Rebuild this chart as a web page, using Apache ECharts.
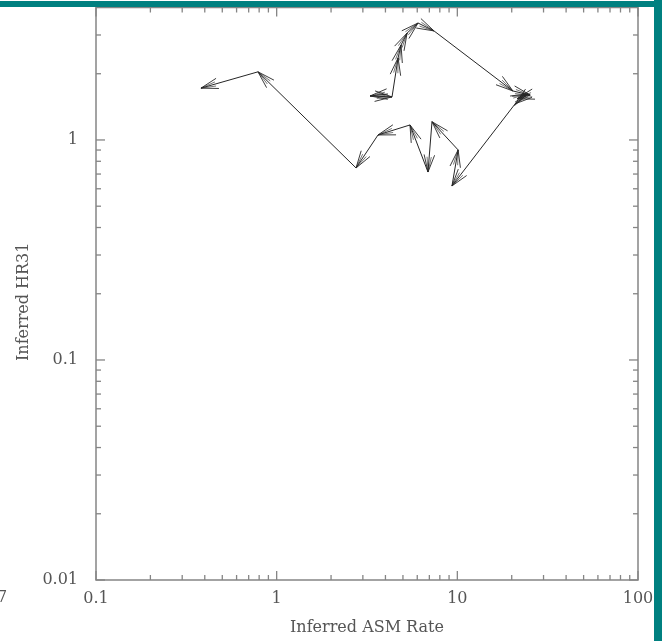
<!DOCTYPE html>
<html>
<head>
<meta charset="utf-8">
<script src="https://cdn.jsdelivr.net/npm/echarts/dist/echarts.min.js"></script>
<style>
html,body{margin:0;padding:0;background:#fff;}
#chart{width:662px;height:641px;}
</style>
</head>
<body>
<div id="chart"></div>
<script>
// Trajectory points (time order): inferred ASM rate and inferred HR31
const asmRate = [4.13, 3.29, 4.35, 4.70, 4.88, 5.27, 6.06, 7.43, 20.3, 25.3, 21.4, 24.6, 20.9, 9.34, 10.1, 7.24, 6.88, 5.47, 3.64, 2.75, 0.788, 0.381];
const hr31    = [1.618, 1.585, 1.569, 2.36, 2.70, 3.06, 3.40, 3.13, 1.67, 1.60, 1.54, 1.62, 1.46, 0.618, 0.901, 1.21, 0.715, 1.17, 1.054, 0.746, 2.04, 1.72];

// Axis ticks and labels
const xMajorTicks = [0.1, 1, 10, 100];
const xTickLabels = ['0.1', '1', '10', '100'];
const xMinorTicks = [0.2, 0.3, 0.4, 0.5, 0.6, 0.7, 0.8, 0.9, 2, 3, 4, 5, 6, 7, 8, 9, 20, 30, 40, 50, 60, 70, 80, 90];
const yMajorTicks = [0.01, 0.1, 1];
const yTickLabels = ['0.01', '0.1', '1'];
const yMinorTicks = [0.02, 0.03, 0.04, 0.05, 0.06, 0.07, 0.08, 0.09, 0.2, 0.3, 0.4, 0.5, 0.6, 0.7, 0.8, 0.9, 2, 3];

const X_MIN = 0.1, X_MAX = 100, Y_MIN = 0.01, Y_MAX = 4;

function labelFor(v, ticks, labels) {
  for (let i = 0; i < ticks.length; i++) {
    if (Math.abs(Math.log10(v) - Math.log10(ticks[i])) < 1e-6) return labels[i];
  }
  return '';
}

const segData = [];
for (let i = 0; i + 1 < asmRate.length; i++) {
  segData.push([asmRate[i], hr31[i], asmRate[i + 1], hr31[i + 1]]);
}

const tickData = [];
xMajorTicks.forEach(v => tickData.push([v, 1, 1, 0]));
xMinorTicks.forEach(v => tickData.push([v, 1, 0, 0]));
yMajorTicks.forEach(v => tickData.push([1, v, 1, 1]));
yMinorTicks.forEach(v => tickData.push([1, v, 0, 1]));

const FRAME = '#858585';
const FONT = 'DejaVu Serif';
const INK = '#262626';

const chart = echarts.init(document.getElementById('chart'), null, {renderer: 'canvas'});
chart.setOption({
  backgroundColor: '#ffffff',
  animation: false,
  grid: {
    left: 96, right: 24, top: 7.5, bottom: 61,
    show: true, borderColor: FRAME, borderWidth: 1.5, backgroundColor: 'transparent'
  },
  xAxis: {
    type: 'log', logBase: 10, min: X_MIN, max: X_MAX,
    axisLine: {show: false}, axisTick: {show: false}, splitLine: {show: false},
    minorTick: {show: false}, minorSplitLine: {show: false},
    axisLabel: {
      margin: 11, color: '#555', fontFamily: FONT, fontSize: 16,
      showMinLabel: true, showMaxLabel: true,
      formatter: v => labelFor(v, xMajorTicks, xTickLabels)
    },
    name: 'Inferred ASM Rate', nameLocation: 'middle', nameGap: 40,
    nameTextStyle: {color: '#555', fontFamily: FONT, fontSize: 16}
  },
  yAxis: {
    type: 'log', logBase: 10, min: Y_MIN, max: Y_MAX,
    axisLine: {show: false}, axisTick: {show: false}, splitLine: {show: false},
    minorTick: {show: false}, minorSplitLine: {show: false},
    axisLabel: {
      margin: 18, color: '#555', fontFamily: FONT, fontSize: 16,
      showMinLabel: true, showMaxLabel: true,
      formatter: v => labelFor(v, yMajorTicks, yTickLabels)
    },
    name: 'Inferred HR31', nameLocation: 'middle', nameGap: 56, nameRotate: 90,
    nameTextStyle: {color: '#555', fontFamily: FONT, fontSize: 16, padding: [0, 16, 0, 0]}
  },
  series: [
    {
      type: 'custom', name: 'ticks', silent: true, clip: false,
      encode: {x: 0, y: 1},
      data: tickData,
      renderItem: function (params, api) {
        const cs = params.coordSys;
        const major = api.value(2), orient = api.value(3);
        const len = major ? 9 : 5;
        const st = {stroke: FRAME, lineWidth: 1.3};
        if (orient === 0) {
          const px = api.coord([api.value(0), 1])[0];
          return {type: 'group', children: [
            {type: 'line', shape: {x1: px, y1: cs.y + cs.height, x2: px, y2: cs.y + cs.height - len}, style: st},
            {type: 'line', shape: {x1: px, y1: cs.y, x2: px, y2: cs.y + len}, style: st}
          ]};
        }
        const py = api.coord([1, api.value(1)])[1];
        return {type: 'group', children: [
          {type: 'line', shape: {x1: cs.x, y1: py, x2: cs.x + len, y2: py}, style: st},
          {type: 'line', shape: {x1: cs.x + cs.width, y1: py, x2: cs.x + cs.width - len, y2: py}, style: st}
        ]};
      }
    },
    {
      type: 'custom', name: 'track', silent: true,
      encode: {x: [0, 2], y: [1, 3]},
      data: segData,
      renderItem: function (params, api) {
        const p1 = api.coord([api.value(0), api.value(1)]);
        const p2 = api.coord([api.value(2), api.value(3)]);
        const ang = Math.atan2(p2[1] - p1[1], p2[0] - p1[0]);
        const L = 18;
        const kids = [
          {type: 'line', shape: {x1: p1[0], y1: p1[1], x2: p2[0], y2: p2[1]}, style: {stroke: INK, lineWidth: 1}}
        ];
        [17, -17, 8, -8].forEach(function (deg, k) {
          const a = deg * Math.PI / 180;
          const len = k < 2 ? L : L * 0.85;
          kids.push({type: 'line', shape: {
            x1: p2[0], y1: p2[1],
            x2: p2[0] - len * Math.cos(ang - a), y2: p2[1] - len * Math.sin(ang - a)
          }, style: {stroke: INK, lineWidth: 0.9, opacity: k < 2 ? 1 : 0.7}});
        });
        return {type: 'group', children: kids};
      }
    }
  ],
  graphic: [
    {type: 'rect', z: 100, shape: {x: 0, y: 1, width: 662, height: 6}, style: {fill: '#008080'}},
    {type: 'rect', z: 100, shape: {x: 654, y: 0, width: 8, height: 641}, style: {fill: '#008080'}},
    {type: 'text', z: 100, left: -3, top: 590, style: {text: '7', fill: '#555', font: '16px "DejaVu Serif"'}}
  ]
});
</script>
</body>
</html>
